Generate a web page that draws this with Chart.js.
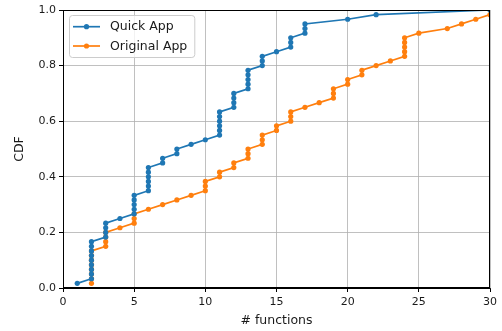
<!DOCTYPE html>
<html>
<head>
<meta charset="utf-8">
<script src="https://cdn.jsdelivr.net/npm/chart.js@4/dist/chart.umd.min.js"></script>
<style>
  html, body { margin: 0; padding: 0; background: #fff; }
  #wrap { width: 502px; height: 331px; }
</style>
</head>
<body>
<div id="wrap"><canvas id="cdf" width="502" height="331"></canvas></div>
<script>
// Number of functions per app: distinct values and how many apps have each.
const quickValues   = [1, 2, 3, 4, 5, 6, 7, 8, 9, 10, 11, 12, 13, 14, 15, 16, 17, 20, 22, 30];
const quickCounts   = [1, 9, 4, 1, 5, 6, 2, 2, 1, 1,  6,  4,  5,  3,  1,  3,  3,  1,  1,  1];
const originalValues = [2, 3, 4, 5, 6, 7, 8, 9, 10, 11, 12, 13, 14, 15, 16, 17, 18, 19, 20, 21, 22, 23, 24, 25, 27, 28, 29, 30, 31];
const originalCounts = [8, 4, 1, 3, 1, 1, 1, 1, 3,  2,  2,  3,  3,  2,  3,  1,  1,  3,  2,  2,  1,  1,  5,  1,  1,  1,  1,  1,  1];

const seriesNames = ['Quick App', 'Original App'];
const seriesColors = ['#1f77b4', '#ff7f0e'];
const xTicks = [0, 5, 10, 15, 20, 25, 30];
const yTicks = [0, 0.2, 0.4, 0.6, 0.8, 1.0];

// Empirical CDF: one point per sample, at (value, rank / total).
function ecdf(values, counts) {
  const total = counts.reduce((a, b) => a + b, 0);
  const pts = [];
  let rank = 0;
  values.forEach((v, i) => {
    for (let k = 0; k < counts[i]; k++) {
      rank += 1;
      pts.push({ x: v, y: rank / total });
    }
  });
  return pts;
}

const FONT = '"DejaVu Sans", "Liberation Sans", sans-serif';
const TEXT = '#1a1a1a';

// Black frame around the plotting area (top and right sides included).
const frame = {
  id: 'frame',
  afterDatasetsDraw(chart) {
    const { ctx, chartArea: a } = chart;
    ctx.save();
    ctx.strokeStyle = '#000';
    ctx.lineWidth = 1;
    ctx.strokeRect(Math.round(a.left) + 0.5, Math.round(a.top) + 0.5,
                   Math.round(a.right - a.left) - 1, Math.round(a.bottom - a.top) - 1);
    ctx.restore();
  }
};

// Legend box drawn inside the upper-left corner of the plot.
const insideLegend = {
  id: 'insideLegend',
  afterDraw(chart) {
    const { ctx, chartArea: a } = chart;
    const x0 = a.left + 6, y0 = a.top + 5;
    const rowH = 19.3, lineLen = 27, pad = 4, gap = 10;
    ctx.save();
    ctx.font = '12.5px ' + FONT;
    const tw = Math.max(...seriesNames.map(n => ctx.measureText(n).width));
    const w = pad + lineLen + gap + tw + 7;
    const h = 42;
    ctx.fillStyle = 'rgba(255,255,255,0.8)';
    ctx.strokeStyle = '#cccccc';
    ctx.lineWidth = 1;
    ctx.beginPath();
    ctx.roundRect(x0 + 0.5, y0 + 0.5, w, h, 3);
    ctx.fill();
    ctx.stroke();
    seriesNames.forEach((name, i) => {
      const cy = y0 + 11.7 + i * rowH;
      const lx = x0 + pad;
      ctx.strokeStyle = seriesColors[i];
      ctx.lineWidth = 1.7;
      ctx.beginPath();
      ctx.moveTo(lx, cy);
      ctx.lineTo(lx + lineLen, cy);
      ctx.stroke();
      ctx.fillStyle = seriesColors[i];
      ctx.beginPath();
      ctx.arc(lx + lineLen / 2, cy, 2.6, 0, Math.PI * 2);
      ctx.fill();
      ctx.fillStyle = TEXT;
      ctx.textBaseline = 'middle';
      ctx.textAlign = 'left';
      ctx.fillText(name, lx + lineLen + gap, cy + 0.5);
    });
    ctx.restore();
  }
};

new Chart(document.getElementById('cdf'), {
  type: 'line',
  data: {
    datasets: [
      { label: seriesNames[0], data: ecdf(quickValues, quickCounts) },
      { label: seriesNames[1], data: ecdf(originalValues, originalCounts) }
    ].map((d, i) => Object.assign(d, {
      borderColor: seriesColors[i],
      backgroundColor: seriesColors[i],
      borderWidth: 1.7,
      pointRadius: 2.6,
      pointBorderWidth: 0,
      pointHoverRadius: 2.6,
      tension: 0,
      fill: false
    }))
  },
  options: {
    responsive: false,
    animation: false,
    devicePixelRatio: 1,
    layout: { padding: { top: 10, right: 12, left: 0, bottom: 0 } },
    plugins: { legend: { display: false }, tooltip: { enabled: false } },
    scales: {
      x: {
        type: 'linear',
        min: 0, max: 30,
        afterFit(s) { s.height = 43; },
        afterBuildTicks(s) { s.ticks = xTicks.map(v => ({ value: v })); },
        ticks: { color: TEXT, font: { family: FONT, size: 11 }, padding: 4, maxRotation: 0,
                 callback: v => String(v) },
        grid: { color: '#b0b0b0', lineWidth: 0.8, tickColor: '#000', tickLength: 4, tickWidth: 1 },
        border: { display: true, color: '#000', width: 1 },
        title: { display: true, text: '# functions', color: TEXT,
                 font: { family: FONT, size: 12.5 }, padding: { top: 0, bottom: 3 } }
      },
      y: {
        type: 'linear',
        min: 0, max: 1,
        afterFit(s) { s.width = 63; },
        afterBuildTicks(s) { s.ticks = yTicks.map(v => ({ value: v })); },
        ticks: { color: TEXT, font: { family: FONT, size: 11 }, padding: 3,
                 callback: v => Number(v).toFixed(1) },
        grid: { color: '#b0b0b0', lineWidth: 0.8, tickColor: '#000', tickLength: 4, tickWidth: 1 },
        border: { display: true, color: '#000', width: 1 },
        title: { display: true, text: 'CDF', color: TEXT,
                 font: { family: FONT, size: 12.5 }, padding: { top: 12, bottom: 0 } }
      }
    }
  },
  plugins: [frame, insideLegend]
});
</script>
</body>
</html>
